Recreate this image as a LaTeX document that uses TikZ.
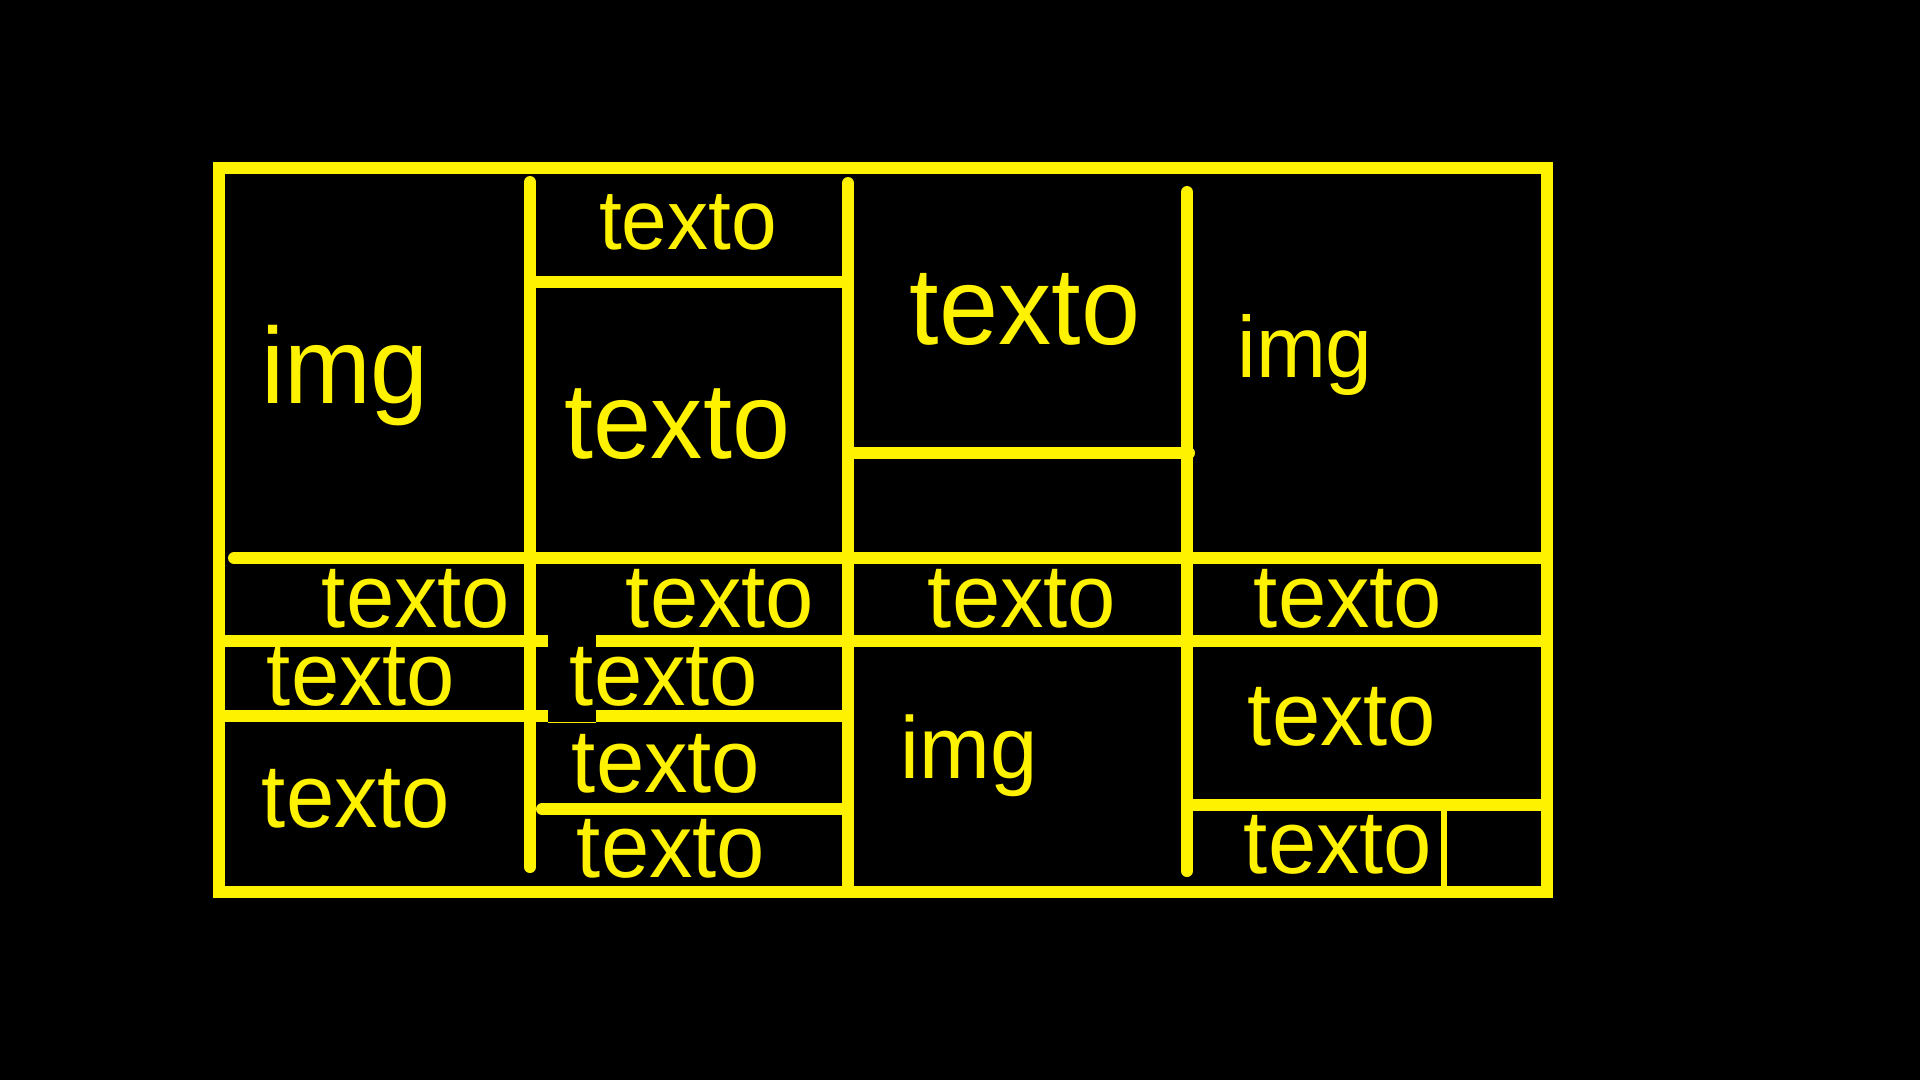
\documentclass[tikz,border=0pt]{standalone}
\usepackage{fontspec}
\setmainfont{Liberation Sans}
\usepackage{tikz}
\usetikzlibrary{
	positioning,
	calc
}

\tikzset{
	wall/.style={draw=yellow, line width=12pt, line cap=round},
	cut/.style={draw=yellow, line width=12pt, line cap=butt},
	word/.style={text=yellow, inner sep=0pt, anchor=base, xscale=0.965},
}

\begin{document}
\begin{tikzpicture}[x=1pt, y=-1pt]

		\fill[black] (0,0) rectangle (1920,1080);
		\useasboundingbox (0,0) rectangle (1920,1080);

		% frame
		\draw[yellow, line width=12pt] (219,168) rectangle (1547,892);

		% columns
		\coordinate (V1t) at (530,182);
		\coordinate (V1b) at (530,867);
		\coordinate (V2t) at (848,183);
		\coordinate (V2b) at (848,892);
		\coordinate (V3t) at (1187,192);
		\coordinate (V3b) at (1187,871);

		\draw[wall] (V1t) -- (V1b);
		\draw[wall] (V2t) -- (V2b);
		\draw[wall] (V3t) -- (V3b);

		% rows
		\draw[wall] (234,558) -- (1547,558);
		\draw[cut] (219,641) -- (548,641);
		\draw[cut] (596,641) -- (1547,641);
		\draw[cut] (219,716) -- (548,716);
		\draw[cut] (596,716) -- (848,716);
		\draw[yellow, line width=1pt] (548,722) -- (596,722);

		\draw[wall] (530,282) -- (848,282);
		\draw[wall] (542,809) -- (848,809);
		\draw[wall] (848,453) -- (1189,453);
		\draw[cut] (1187,805) -- (1547,805);
		\draw[yellow, line width=6pt] (1444,805) -- (1444,892);

		% big cells
		\node[word, font=\fontsize{108}{108}\selectfont] (img1) at (345,403) {img};
		\node[word, font=\fontsize{85}{85}\selectfont] (t1) at (688,249) {texto};
		\node[word, font=\fontsize{108}{108}\selectfont] (t2) at (677,458) {texto};
		\node[word, font=\fontsize{110}{110}\selectfont] (t3) at (1025,344) {texto};
		\node[word, font=\fontsize{87}{87}\selectfont] (img2) at (1305,377) {img};
		\node[word, font=\fontsize{88}{88}\selectfont] (img3) at (969,778) {img};

		% small cells
		\foreach \x/\y [count=\i] in {416/627, 720/627, 1022/627, 1348/627,
				361/705, 664/705, 356/827, 666/792, 671/877, 1342/745, 1338/873} {
		\node[word, font=\fontsize{90}{90}\selectfont] (s\i) at (\x,\y) {texto};
		}

	\end{tikzpicture}
\end{document}
